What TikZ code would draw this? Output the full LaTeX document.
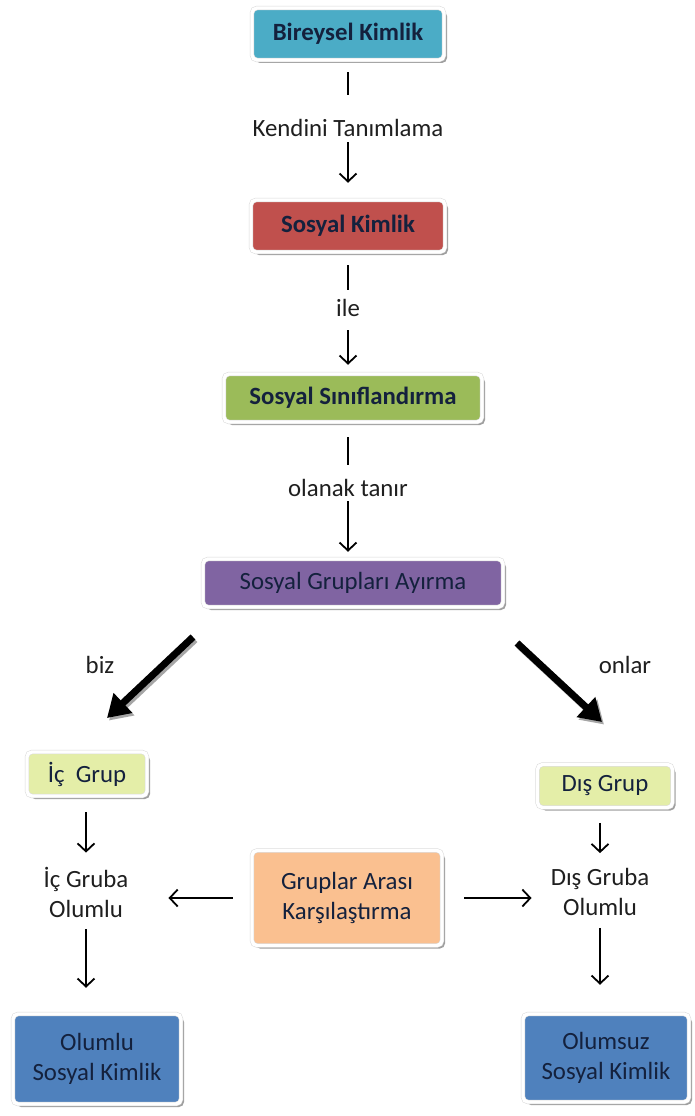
\documentclass[tikz,border=0pt]{standalone}
\usepackage{fontspec}
\setmainfont{Carlito}
\usetikzlibrary{arrows.meta,shadows,positioning}

\definecolor{bireyselblue}{HTML}{4BACC6}
\definecolor{kimlikred}{HTML}{C0504D}
\definecolor{sinifgreen}{HTML}{9BBB59}
\definecolor{grupviolet}{HTML}{8064A2}
\definecolor{grupyellow}{HTML}{E4EEA8}
\definecolor{arasiorange}{HTML}{FAC090}
\definecolor{olumblue}{HTML}{4F81BD}
\definecolor{boxtext}{HTML}{14213D}

\tikzset{
  box/.style={draw=black!15, double=white, double distance=3.4pt, line width=0.5pt,
    rounded corners=5pt, inner sep=0pt, align=center, text=boxtext,
    drop shadow={shadow xshift=3pt, shadow yshift=-3pt, fill=black!50, opacity=0.75}},
  txt/.style={inner sep=0pt, text height=17pt, text depth=5pt, text=black!88},
  txttwo/.style={inner sep=0pt, align=center, text=black!88},
  stem/.style={line width=1.8pt},
  flow/.style={line width=1.8pt, -{Straight Barb[length=8pt,width=17pt]}},
  bigarrow/.style={line width=7pt, -{Triangle[length=22pt,width=26pt]}}
}

\begin{document}
\begin{tikzpicture}[x=1pt, y=-1pt, text=black, font=\fontsize{24.8}{30}\selectfont]
\def \midx {348}
\def \leftx {86}
\def \rightx {600}

\fill[white] (0,0) rectangle (694,1116);
\useasboundingbox (0,0) rectangle (694,1116);

%Main column
\node[box, fill=bireyselblue, minimum width=192pt, minimum height=52pt] (bk) at (\midx,34) {\textbf{Bireysel Kimlik}};
\node[txt] (kt) at (\midx,130) {Kendini Tanımlama};
\node[box, fill=kimlikred, minimum width=194pt, minimum height=52pt] (sk) at (\midx,226) {\textbf{Sosyal Kimlik}};
\node[txt] (ile) at (\midx,310) {ile};
\node[box, fill=sinifgreen, minimum width=258pt, minimum height=48pt] (ss) at (353,398) {\textbf{Sosyal Sınıflandırma}};
\node[txt] (ot) at (\midx,490) {olanak tanır};
\node[box, fill=grupviolet, minimum width=300pt, minimum height=48pt] (sga) at (353,583) {Sosyal Grupları Ayırma};

\draw[stem, shorten <=12pt, shorten >=24pt] (kt |- bk.south) -- (kt.north);
\draw[flow, shorten <=1pt, shorten >=17pt] (kt.south) -- (kt |- sk.north);
\draw[stem, shorten <=13pt, shorten >=9pt] (ile |- sk.south) -- (ile.north);
\draw[flow, shorten <=9pt, shorten >=9pt] (ile.south) -- (ile |- ss.north);
\draw[stem, shorten <=15pt, shorten >=14pt] (ot |- ss.south) -- (ot.north);
\draw[flow, shorten <=0pt, shorten >=7pt] (ot.south) -- (ot |- sga.north);

%biz / onlar
\coordinate (bizs) at (193,637);
\coordinate (bize) at (107,718);
\coordinate (onls) at (517,643);
\coordinate (onle) at (602,722);
\draw[bigarrow, black!35, transform canvas={shift={(2pt,-2.5pt)}}] (bizs) -- (bize);
\draw[bigarrow, black!35, transform canvas={shift={(2pt,-2.5pt)}}] (onls) -- (onle);
\draw[bigarrow] (bizs) -- (bize);
\draw[bigarrow] (onls) -- (onle);
\node[txt] (biz) at (100,667) {biz};
\node[txt] (onlar) at (625,667) {onlar};

%Groups
\node[box, fill=grupyellow, minimum width=120pt, minimum height=44pt] (ic) at (87,774) {İç \ Grup};
\node[box, fill=grupyellow, minimum width=135pt, minimum height=43pt] (dg) at (605,786) {Dış Grup};
\node[txttwo] (ico) at (\leftx,892) {İç Gruba\\Olumlu};
\node[txttwo] (dgo) at (\rightx,892) {Dış Gruba\\Olumlu};
\node[box, fill=arasiorange, minimum width=190pt, minimum height=95pt] (gak) at (347,898) {Gruplar Arası\\Karşılaştırma};

%Results
\node[box, fill=olumblue, minimum width=168pt, minimum height=90pt] (olumlu) at (97,1059) {Olumlu\\Sosyal Kimlik};
\node[box, fill=olumblue, minimum width=166pt, minimum height=88pt] (olumsuz) at (606,1058) {Olumsuz\\Sosyal Kimlik};

\draw[flow, shorten <=19pt, shorten >=40pt] (gak.west) -- (gak.west -| ico.east);
\draw[flow, shorten <=22pt, shorten >=19pt] (gak.east) -- (gak.east -| dgo.west);
\draw[flow, shorten <=16pt, shorten >=14pt] (ic.south -| ico) -- (ico.north);
\draw[flow, shorten <=12pt, shorten >=26pt] (ico.south) -- (ico |- olumlu.north);
\draw[flow, shorten <=15pt, shorten >=15pt] (dg.south -| dgo) -- (dgo.north);
\draw[flow, shorten <=12pt, shorten >=29pt] (dgo.south) -- (dgo |- olumsuz.north);

\end{tikzpicture}
\end{document}
